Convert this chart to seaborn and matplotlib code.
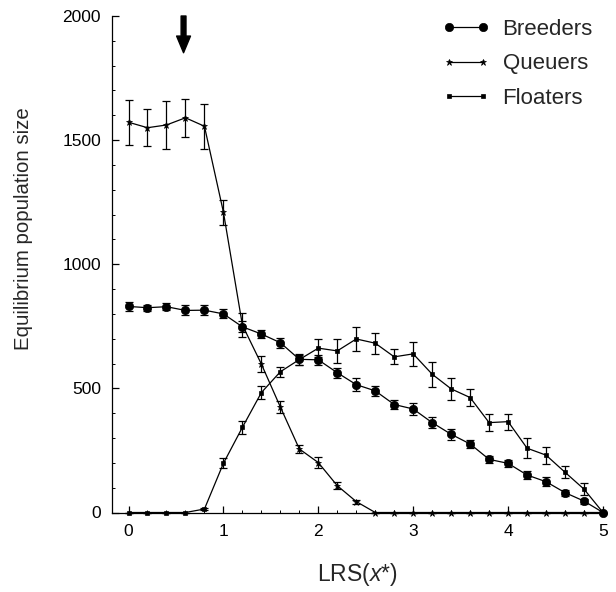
import numpy as np
import pandas as pd
import matplotlib
matplotlib.use('Agg')
import matplotlib.pyplot as plt
from matplotlib.ticker import MultipleLocator
import seaborn as sns

# values
lrs = [0.0, 0.2, 0.4, 0.6, 0.8, 1.0, 1.2, 1.4, 1.6, 1.8, 2.0, 2.2, 2.4,
       2.6, 2.8, 3.0, 3.2, 3.4, 3.6, 3.8, 4.0, 4.2, 4.4, 4.6, 4.8, 5.0]

breeders = [830, 825, 829, 814, 815, 800, 748, 719, 684, 617, 615, 563, 515,
            490, 435, 417, 362, 315, 276, 214, 198, 151, 124, 80, 46, 0]
breeders_err = [18, 12, 15, 20, 20, 18, 22, 15, 20, 22, 20, 20, 25,
                20, 20, 25, 22, 22, 18, 14, 15, 18, 18, 12, 10, 0]

queuers = [1572, 1550, 1561, 1590, 1556, 1210, 755, 598, 425, 256, 201, 108, 44,
           0, 0, 0, 0, 0, 0, 0, 0, 0, 0, 0, 0, 0]
queuers_err = [90, 75, 95, 77, 90, 50, 50, 33, 25, 15, 22, 15, 8,
               0, 0, 0, 0, 0, 0, 0, 0, 0, 0, 0, 0, 0]

floaters = [0, 0, 0, 0, 14, 198, 343, 483, 567, 616, 662, 651, 699,
            682, 627, 639, 557, 498, 463, 362, 366, 259, 231, 162, 94, 0]
floaters_err = [0, 0, 0, 0, 5, 20, 25, 25, 20, 20, 37, 48, 49,
                42, 30, 47, 50, 45, 34, 33, 32, 40, 34, 25, 24, 0]

sns.set_theme(style='ticks')
plt.rcParams['font.family'] = ['Liberation Sans', 'DejaVu Sans']
plt.rcParams['mathtext.fontset'] = 'custom'
plt.rcParams['mathtext.it'] = 'Liberation Sans:italic'
plt.rcParams['mathtext.rm'] = 'Liberation Sans'

fig = plt.figure(figsize=(6.16, 5.92), dpi=100)
ax = fig.add_axes([112 / 616, 79.5 / 592, 491 / 616, 496.5 / 592])

series = [
    ('Breeders', breeders, breeders_err, 'o', 6),
    ('Queuers', queuers, queuers_err, '*', 5),
    ('Floaters', floaters, floaters_err, 's', 3.5),
]

for name, vals, errs, mk, ms in series:
    df = pd.DataFrame({'LRS': lrs, 'N': vals})
    sns.lineplot(data=df, x='LRS', y='N', ax=ax, color='black', linewidth=0.9,
                 marker=mk, markersize=ms, markeredgewidth=0.5,
                 markeredgecolor='black', label=name, clip_on=False, zorder=3)
    ax.errorbar(lrs, vals, yerr=errs, fmt='none', ecolor='black',
                elinewidth=0.9, capsize=2.8, capthick=0.9, clip_on=False, zorder=2)

ax.set_xlim(-0.174, 5.0)
ax.set_ylim(0, 2000)
ax.set_xticks([0, 1, 2, 3, 4, 5])
ax.set_yticks([0, 500, 1000, 1500, 2000])
ax.xaxis.set_minor_locator(MultipleLocator(0.2))
ax.yaxis.set_minor_locator(MultipleLocator(100))
ax.tick_params(which='major', direction='in', length=5, width=0.9,
               labelsize=12.5, pad=8, colors='black')
ax.tick_params(which='minor', direction='in', length=2.5, width=0.7, colors='black')

for side in ['top', 'right']:
    ax.spines[side].set_visible(False)
for side in ['left', 'bottom']:
    ax.spines[side].set_linewidth(0.9)
    ax.spines[side].set_color('black')

ax.set_xlabel(r'LRS($\mathit{x}$*)', fontsize=16.5, labelpad=16)
ax.set_ylabel('Equilibrium population size', fontsize=14.7)
ax.yaxis.set_label_coords(-0.16, 0.571)

# arrow marking the point of interest
ax.annotate('', xy=(0.58, 1852), xytext=(0.58, 2000),
            arrowprops=dict(facecolor='black', edgecolor='black', width=3.5,
                            headwidth=10, headlength=12, shrink=0),
            annotation_clip=False)

leg = ax.legend(loc='upper right', bbox_to_anchor=(1.02, 1.035), frameon=False,
                numpoints=2, fontsize=16, handlelength=2.1, handletextpad=0.6,
                labelspacing=0.62)

fig.savefig('out.png', dpi=100)
